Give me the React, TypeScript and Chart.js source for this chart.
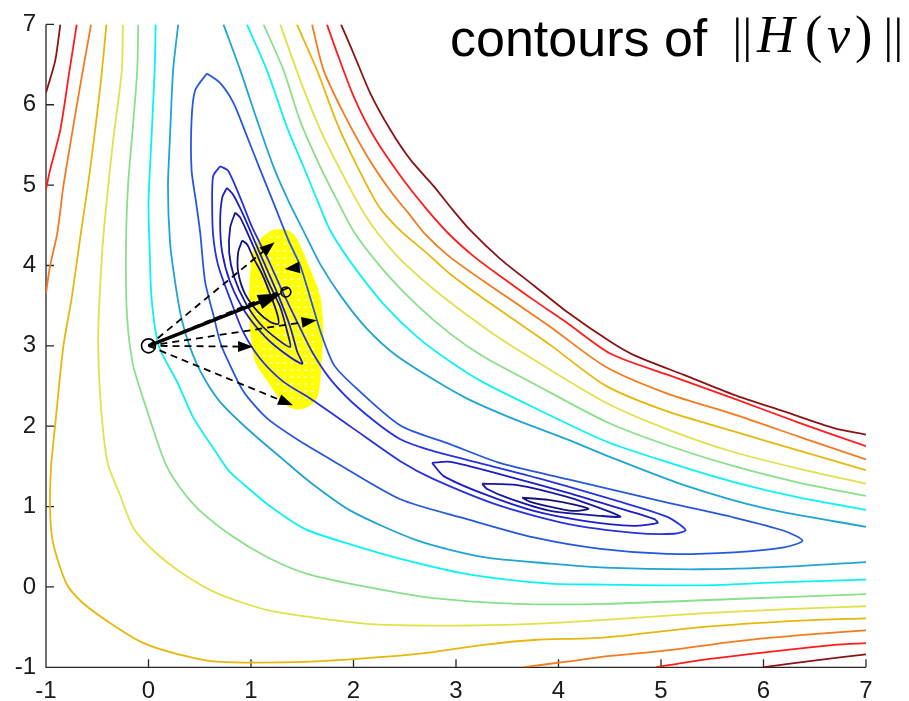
import React, { useEffect, useRef } from "react";
import { Chart, registerables } from "chart.js";

Chart.register(...registerables);

type Pt = [number, number];

// ---- axes ----
const xTickValues = [-1, 0, 1, 2, 3, 4, 5, 6, 7];
const yTickValues = [-1, 0, 1, 2, 3, 4, 5, 6, 7];

// ---- contour lines of ||H(v)|| ----
const darkRedLeft: Pt[] = [[-0.86, 7], [-0.91, 6.55], [-1, 6.15]];
const redLeft: Pt[] = [[-0.7, 7], [-0.77, 6.43], [-0.86, 5.69], [-0.96, 5.19], [-1, 4.95]];
const orangeLeft: Pt[] = [[-0.56, 7], [-0.64, 6.43], [-0.75, 5.61], [-0.83, 4.99], [-0.89, 4.4], [-0.96, 4.0], [-1, 3.65]];
const goldOuter: Pt[] = [[-0.41, 7], [-0.47, 6.23], [-0.57, 5.19], [-0.66, 4.4], [-0.75, 3.59], [-0.83, 3.0], [-0.91, 2.02], [-0.95, 1.5], [-0.96, 0.95], [-0.93, 0.54], [-0.8, 0.04], [-0.64, -0.2], [-0.375, -0.45], [-0.08, -0.68], [0.24, -0.82], [0.67, -0.93], [1.58, -0.93], [2.29, -0.87], [2.78, -0.81], [3.27, -0.72], [3.76, -0.66], [4.43, -0.63], [5.39, -0.5], [6.36, -0.42], [7, -0.39]];
const yellowOuter: Pt[] = [[-0.25, 7], [-0.26, 6.43], [-0.34, 5.61], [-0.41, 4.78], [-0.45, 4.2], [-0.49, 3.17], [-0.47, 2.35], [-0.4, 1.55], [-0.28, 1.15], [-0.15, 0.74], [0.05, 0.45], [0.34, 0.16], [0.67, -0.08], [1.16, -0.29], [1.55, -0.37], [2.13, -0.46], [2.62, -0.48], [3.11, -0.48], [3.76, -0.46], [4.45, -0.41], [5.39, -0.33], [6.36, -0.27], [7, -0.24]];
const greenOuter: Pt[] = [[-0.1, 7], [-0.11, 6.43], [-0.16, 5.61], [-0.2, 4.99], [-0.22, 4.2], [-0.21, 3.38], [-0.15, 2.76], [-0.02, 2.22], [0.16, 1.55], [0.31, 1.23], [0.5, 0.95], [0.83, 0.62], [1.16, 0.37], [1.53, 0.17], [2.13, 0.0], [2.78, -0.14], [3.6, -0.21], [4.45, -0.21], [5.71, -0.15], [7, -0.09]];
const cyanOuter: Pt[] = [[0.07, 7], [0.06, 6.43], [0.03, 5.61], [0.0, 4.78], [0.01, 4.25], [0.03, 3.59], [0.1, 3.0], [0.28, 2.55], [0.44, 2.1], [0.63, 1.73], [0.78, 1.45], [0.89, 1.32], [1.16, 1.03], [1.53, 0.72], [1.97, 0.53], [2.46, 0.35], [3.11, 0.16], [3.92, 0.04], [4.45, 0.03], [5.39, 0.02], [6.2, 0.06], [7, 0.09]];
const tealOuter: Pt[] = [[0.29, 7], [0.24, 6.43], [0.21, 5.61], [0.19, 4.99], [0.21, 4.29], [0.26, 3.79], [0.32, 3.35], [0.4, 3.0], [0.52, 2.65], [0.7, 2.3], [0.98, 1.95], [1.3, 1.6], [1.55, 1.33], [1.97, 0.95], [2.62, 0.58], [3.27, 0.37], [3.92, 0.29], [4.45, 0.24], [5.39, 0.22], [6.2, 0.25], [7, 0.31]];

const tealRight: Pt[] = [[0.731, 7.0], [0.895, 6.431], [1.058, 5.812], [1.22, 5.227], [1.373, 4.782], [1.52, 4.41], [1.676, 4.014], [1.891, 3.594], [2.132, 3.211], [2.408, 2.889], [2.782, 2.58], [3.108, 2.344], [3.597, 2.072], [4.085, 1.837], [4.508, 1.615], [5.224, 1.268], [6.038, 0.971], [7.0, 0.748]];
const cyanRight: Pt[] = [[0.96, 7.0], [1.155, 6.431], [1.351, 5.722], [1.529, 5.177], [1.656, 4.782], [1.773, 4.435], [1.988, 4.014], [2.294, 3.519], [2.62, 3.111], [2.945, 2.802], [3.271, 2.542], [3.759, 2.233], [4.459, 1.813], [5.062, 1.553], [5.712, 1.305], [6.363, 1.107], [7.0, 0.959]];
const greenRight: Pt[] = [[1.122, 7.0], [1.317, 6.431], [1.48, 5.796], [1.676, 5.227], [1.852, 4.782], [2.008, 4.41], [2.294, 3.94], [2.62, 3.507], [2.945, 3.149], [3.271, 2.864], [3.759, 2.529], [4.459, 2.059], [5.062, 1.763], [5.712, 1.503], [6.363, 1.293], [7.0, 1.132]];
const yellowRight: Pt[] = [[1.285, 7.0], [1.48, 6.307], [1.676, 5.689], [1.903, 5.112], [2.086, 4.685], [2.232, 4.41], [2.457, 4.076], [2.782, 3.705], [3.108, 3.384], [3.434, 3.087], [3.759, 2.827], [4.459, 2.295], [5.062, 1.961], [5.712, 1.676], [6.363, 1.466], [7.0, 1.284]];
const goldRight: Pt[] = [[1.448, 7.0], [1.644, 6.431], [1.839, 5.771], [2.034, 5.239], [2.242, 4.744], [2.457, 4.435], [2.718, 4.151], [2.945, 3.891], [3.271, 3.585], [3.597, 3.297], [3.922, 3.009], [4.459, 2.505], [5.062, 2.184], [5.712, 1.936], [6.363, 1.689], [7.0, 1.454]];
const orangeRight: Pt[] = [[1.595, 7.0], [1.708, 6.431], [1.903, 5.895], [2.132, 5.363], [2.359, 4.93], [2.555, 4.621], [2.701, 4.386], [2.945, 4.101], [3.271, 3.804], [3.597, 3.52], [3.922, 3.235], [4.459, 2.74], [5.062, 2.406], [5.712, 2.147], [6.363, 1.862], [7.0, 1.586]];
const redRight: Pt[] = [[1.741, 7.0], [1.842, 6.637], [2.001, 6.105], [2.196, 5.611], [2.457, 5.116], [2.701, 4.72], [2.926, 4.398], [3.173, 4.114], [3.434, 3.866], [3.759, 3.569], [4.085, 3.285], [4.508, 2.902], [5.062, 2.641], [5.712, 2.344], [6.363, 2.035], [7.0, 1.751]];
const darkRedRight: Pt[] = [[1.878, 7.0], [2.001, 6.637], [2.164, 6.142], [2.359, 5.689], [2.555, 5.317], [2.782, 4.988], [2.955, 4.712], [3.141, 4.436], [3.434, 4.08], [3.759, 3.751], [4.085, 3.421], [4.508, 3.05], [4.735, 2.885], [5.224, 2.638], [5.712, 2.39], [6.2, 2.184], [6.688, 1.977], [7.0, 1.895]];

const orangeBottom: Pt[] = [[3.65, -1], [4.08, -0.93], [4.46, -0.865], [5.06, -0.79], [5.71, -0.68], [6.36, -0.6], [7, -0.54]];
const redBottom: Pt[] = [[4.95, -1], [5.39, -0.91], [6.04, -0.81], [6.69, -0.72], [7, -0.7]];
const darkRedBottom: Pt[] = [[5.99, -1], [6.53, -0.91], [7, -0.84]];

// closed loops around the two minima
const royalLoop: Pt[] = [[0.57, 6.39], [0.7, 6.27], [0.83, 6.02], [0.96, 5.61], [1.09, 5.19], [1.22, 4.78], [1.37, 4.3], [1.48, 4.0], [1.58, 3.59], [1.68, 3.17], [1.81, 2.76], [2.03, 2.47], [2.457, 2.01], [2.945, 1.775], [3.434, 1.54], [4.085, 1.342], [5.061, 1.049], [5.712, 0.864], [6.2, 0.699], [6.38, 0.575], [6.2, 0.492], [5.712, 0.431], [5.061, 0.411], [4.41, 0.473], [3.759, 0.616], [3.108, 0.844], [2.457, 1.091], [1.806, 1.565], [1.48, 1.812], [1.155, 2.101], [0.927, 2.431], [0.765, 2.843], [0.699, 3.049], [0.634, 3.38], [0.553, 3.792], [0.504, 4.411], [0.465, 4.78], [0.42, 5.19], [0.42, 5.81], [0.455, 6.18]];
const blueLoop: Pt[] = [[0.699, 5.236], [0.777, 5.178], [0.895, 4.844], [1.012, 4.473], [1.17, 4.065], [1.31, 3.668], [1.46, 3.272], [1.607, 2.901], [1.793, 2.555], [2.066, 2.208], [2.457, 1.837], [2.782, 1.689], [3.271, 1.528], [3.922, 1.311], [4.573, 1.07], [5.061, 0.872], [5.24, 0.708], [5.126, 0.662], [4.735, 0.674], [4.085, 0.786], [3.434, 1.008], [2.782, 1.342], [2.457, 1.565], [1.969, 1.998], [1.578, 2.344], [1.314, 2.555], [1.09, 2.839], [0.924, 3.173], [0.797, 3.581], [0.68, 4.0], [0.631, 4.372], [0.621, 4.78], [0.631, 5.114]];
const upperRing3: Pt[] = [[0.765, 4.967], [0.826, 4.881], [0.924, 4.633], [1.041, 4.287], [1.168, 3.916], [1.285, 3.569], [1.383, 3.235], [1.451, 2.926], [1.5, 2.777], [1.334, 2.901], [1.139, 3.111], [0.943, 3.42], [0.797, 3.792], [0.719, 4.163], [0.699, 4.535], [0.719, 4.844]];
const upperRing2: Pt[] = [[0.846, 4.658], [0.895, 4.596], [0.963, 4.411], [1.07, 4.101], [1.17, 3.792], [1.285, 3.483], [1.354, 3.173], [1.383, 2.988], [1.266, 3.074], [1.09, 3.272], [0.943, 3.544], [0.836, 3.854], [0.787, 4.163], [0.797, 4.472]];
const upperRing1: Pt[] = [[0.914, 4.312], [0.963, 4.262], [1.021, 4.101], [1.109, 3.891], [1.188, 3.643], [1.256, 3.396], [1.266, 3.272], [1.188, 3.297], [1.07, 3.42], [0.943, 3.643], [0.875, 3.916], [0.875, 4.163]];
const lowerRing3: Pt[] = [[2.767, 1.544], [2.945, 1.556], [3.434, 1.4], [4.085, 1.173], [4.573, 0.987], [4.931, 0.847], [4.967, 0.798], [4.735, 0.761], [4.247, 0.823], [3.759, 0.946], [3.271, 1.157], [2.88, 1.379]];
const lowerRing2: Pt[] = [[3.255, 1.284], [3.597, 1.268], [4.085, 1.12], [4.476, 0.946], [4.605, 0.872], [4.41, 0.885], [3.922, 0.946], [3.531, 1.095], [3.304, 1.219]];
const lowerRing1: Pt[] = [[3.646, 1.111], [3.902, 1.083], [4.166, 1.021], [4.293, 0.971], [4.137, 0.946], [3.902, 1.002], [3.727, 1.058]];

// yellow sample cloud
const sampleCloud: Pt[] = [[1.217, 4.435], [1.109, 4.336], [1.031, 4.188], [1.002, 3.915], [0.992, 3.544], [1.002, 3.173], [1.051, 2.802], [1.188, 2.53], [1.314, 2.307], [1.451, 2.221], [1.578, 2.27], [1.646, 2.394], [1.676, 2.74], [1.695, 3.173], [1.676, 3.544], [1.637, 3.73], [1.559, 3.977], [1.5, 4.163], [1.422, 4.361], [1.334, 4.435]];

// search arrows
const startPoint: Pt = [0, 3];
const stepTarget: Pt = [1.3, 3.655];
const stepMarker: Pt = [1.34, 3.67];
const trialTargets: Pt[] = [[1.23, 4.29], [1.64, 3.32], [1.02, 2.99], [1.41, 2.26]];
const nearStepTrial: Pt = [1.36, 3.72];
const backArrowFrom: Pt = [1.5, 3.98];
const backArrowTo: Pt = [1.33, 3.955];

const palette = {
  darkRed: "#8a1414",
  red: "#ff1c1c",
  orange: "#f37a1e",
  gold: "#e7b70d",
  yellow: "#e1e14c",
  green: "#8adf8a",
  cyan: "#0af2f2",
  teal: "#1fa4d3",
  royal: "#2558dc",
  blue: "#2632e0",
  mid: "#1e1ec8",
  navy: "#16169f",
  deep: "#121278",
  cloud: "#ffff00",
  ink: "#000000",
  axis: "#262626",
};

const contours: { data: Pt[]; color: string; closed?: boolean }[] = [
  { data: darkRedLeft, color: palette.darkRed },
  { data: redLeft, color: palette.red },
  { data: orangeLeft, color: palette.orange },
  { data: goldOuter, color: palette.gold },
  { data: yellowOuter, color: palette.yellow },
  { data: greenOuter, color: palette.green },
  { data: cyanOuter, color: palette.cyan },
  { data: tealOuter, color: palette.teal },
  { data: tealRight, color: palette.teal },
  { data: cyanRight, color: palette.cyan },
  { data: greenRight, color: palette.green },
  { data: yellowRight, color: palette.yellow },
  { data: goldRight, color: palette.gold },
  { data: orangeRight, color: palette.orange },
  { data: redRight, color: palette.red },
  { data: darkRedRight, color: palette.darkRed },
  { data: orangeBottom, color: palette.orange },
  { data: redBottom, color: palette.red },
  { data: darkRedBottom, color: palette.darkRed },
  { data: royalLoop, color: palette.royal, closed: true },
  { data: blueLoop, color: palette.blue, closed: true },
  { data: upperRing3, color: palette.mid, closed: true },
  { data: upperRing2, color: palette.navy, closed: true },
  { data: upperRing1, color: palette.deep, closed: true },
  { data: lowerRing3, color: palette.mid, closed: true },
  { data: lowerRing2, color: palette.navy, closed: true },
  { data: lowerRing1, color: palette.deep, closed: true },
];

function drawArrow(
  ctx: CanvasRenderingContext2D,
  x0: number, y0: number, x1: number, y1: number,
  dashed: boolean, lw: number, headLen: number, headW: number, shaft = true
) {
  const dx = x1 - x0, dy = y1 - y0;
  const len = Math.hypot(dx, dy) || 1;
  const ux = dx / len, uy = dy / len;
  const bx = x1 - ux * headLen, by = y1 - uy * headLen;
  if (shaft) {
    ctx.save();
    ctx.lineWidth = lw;
    ctx.setLineDash(dashed ? [7, 5] : []);
    ctx.beginPath();
    ctx.moveTo(x0, y0);
    ctx.lineTo(bx + ux * 2, by + uy * 2);
    ctx.stroke();
    ctx.restore();
  }
  ctx.beginPath();
  ctx.moveTo(x1, y1);
  ctx.lineTo(bx - uy * headW / 2, by + ux * headW / 2);
  ctx.lineTo(bx + uy * headW / 2, by - ux * headW / 2);
  ctx.closePath();
  ctx.fill();
}

function insidePoly(px: number, py: number, poly: [number, number][]) {
  let inside = false;
  for (let i = 0, j = poly.length - 1; i < poly.length; j = i++) {
    const [xi, yi] = poly[i];
    const [xj, yj] = poly[j];
    if ((yi > py) !== (yj > py) && px < ((xj - xi) * (py - yi)) / (yj - yi) + xi) inside = !inside;
  }
  return inside;
}

const CLOUD_INDEX = contours.length;

const axesPlugin = {
  id: "matlabAxes",
  beforeDatasetsDraw(chart: any) {
    const { ctx, chartArea, scales } = chart;
    const xs = scales.x, ys = scales.y;
    ctx.save();
    ctx.strokeStyle = palette.axis;
    ctx.lineWidth = 1.3;
    ctx.beginPath();
    ctx.moveTo(chartArea.left, chartArea.top);
    ctx.lineTo(chartArea.left, chartArea.bottom);
    ctx.lineTo(chartArea.right, chartArea.bottom);
    for (const t of xTickValues) {
      const px = xs.getPixelForValue(t);
      ctx.moveTo(px, chartArea.bottom);
      ctx.lineTo(px, chartArea.bottom - 8);
    }
    for (const t of yTickValues) {
      const py = ys.getPixelForValue(t);
      ctx.moveTo(chartArea.left, py);
      ctx.lineTo(chartArea.left + 8, py);
    }
    ctx.stroke();
    ctx.restore();
  },
  afterDatasetDraw(chart: any, args: any) {
    if (args.index !== CLOUD_INDEX) return;
    // white gaps between the yellow sample markers
    const { ctx, scales } = chart;
    const poly = sampleCloud.map(([x, y]) => [scales.x.getPixelForValue(x), scales.y.getPixelForValue(y)] as [number, number]);
    let minX = Infinity, maxX = -Infinity, minY = Infinity, maxY = -Infinity;
    for (const [x, y] of poly) { minX = Math.min(minX, x); maxX = Math.max(maxX, x); minY = Math.min(minY, y); maxY = Math.max(maxY, y); }
    ctx.save();
    ctx.fillStyle = "rgba(255,255,255,0.85)";
    for (let gy = minY + 6; gy < maxY - 4; gy += 7) {
      for (let gx = minX + 5; gx < maxX - 4; gx += 7) {
        if (insidePoly(gx, gy, poly) && insidePoly(gx - 4, gy, poly) && insidePoly(gx + 6, gy, poly)) {
          ctx.fillRect(gx, gy, 3, 1.2);
        }
      }
    }
    ctx.restore();
  },
};

const overlayPlugin = {
  id: "overlay",
  afterDatasetsDraw(chart: any) {
    const { ctx, scales } = chart;
    const X = (v: number) => scales.x.getPixelForValue(v);
    const Y = (v: number) => scales.y.getPixelForValue(v);
    const sx = X(startPoint[0]), sy = Y(startPoint[1]);
    ctx.save();
    ctx.strokeStyle = palette.ink;
    ctx.fillStyle = palette.ink;
    for (const t of trialTargets) {
      drawArrow(ctx, sx, sy, X(t[0]), Y(t[1]), true, 1.8, 15, 11);
    }
    ctx.save();
    ctx.lineWidth = 1.8;
    ctx.setLineDash([7, 5]);
    ctx.beginPath();
    ctx.moveTo(sx, sy);
    ctx.lineTo(X(nearStepTrial[0]), Y(nearStepTrial[1]));
    ctx.stroke();
    ctx.restore();
    drawArrow(ctx, X(backArrowFrom[0]), Y(backArrowFrom[1]), X(backArrowTo[0]), Y(backArrowTo[1]), false, 1, 15, 12, false);
    drawArrow(ctx, sx, sy, X(stepTarget[0]), Y(stepTarget[1]), false, 3.4, 24, 15);
    ctx.lineWidth = 1.6;
    ctx.beginPath();
    ctx.arc(sx, sy, 7, 0, Math.PI * 2);
    ctx.stroke();
    ctx.beginPath();
    ctx.arc(X(stepMarker[0]), Y(stepMarker[1]), 5, 0, Math.PI * 2);
    ctx.stroke();
    // title
    ctx.textBaseline = "alphabetic";
    ctx.textAlign = "left";
    ctx.font = "52px 'Liberation Sans', Arial, sans-serif";
    ctx.fillText("contours of", 450, 56);
    ctx.font = "48px 'Liberation Serif', serif";
    ctx.fillText("|", 732.5, 52);
    ctx.fillText("|", 742.5, 52);
    ctx.font = "italic 52px 'Liberation Serif', serif";
    ctx.fillText("H", 757, 52);
    ctx.font = "52px 'Liberation Serif', serif";
    ctx.fillText("(", 805, 52);
    ctx.font = "italic 52px 'Liberation Serif', serif";
    ctx.fillText("v", 827, 52);
    ctx.font = "52px 'Liberation Serif', serif";
    ctx.fillText(")", 855, 52);
    ctx.font = "48px 'Liberation Serif', serif";
    ctx.fillText("|", 883.5, 52);
    ctx.fillText("|", 893.5, 52);
    ctx.restore();
  },
};

export default function App() {
  const ref = useRef<HTMLCanvasElement | null>(null);
  useEffect(() => {
    const canvas = ref.current;
    if (!canvas) return;
    const datasets: any[] = contours.map((c) => {
      const pts = c.closed ? [...c.data, c.data[0]] : c.data;
      return {
        data: pts.map(([x, y]) => ({ x, y })),
        showLine: true,
        borderColor: c.color,
        borderWidth: 1.8,
        pointRadius: 0,
        tension: 0.25,
        fill: false,
        order: 1,
      };
    });
    datasets.push({
      data: [...sampleCloud, sampleCloud[0]].map(([x, y]) => ({ x, y })),
      showLine: true,
      borderColor: palette.cloud,
      backgroundColor: palette.cloud,
      borderWidth: 2,
      pointRadius: 0,
      tension: 0.3,
      fill: "shape",
      order: 5,
    });
    const tickFont = { family: "'Liberation Sans', Arial, sans-serif", size: 24 };
    const chart = new Chart(canvas, {
      type: "scatter",
      data: { datasets },
      options: {
        animation: false,
        responsive: false,
        devicePixelRatio: 1,
        events: [],
        layout: { padding: { top: 20.7, right: 43, bottom: 0, left: 0 } },
        plugins: {
          legend: { display: false },
          tooltip: { enabled: false },
        },
        scales: {
          x: {
            type: "linear",
            min: -1,
            max: 7,
            position: "bottom",
            grid: { display: false, drawTicks: false },
            border: { display: false },
            ticks: { stepSize: 1, padding: 10, color: "#1a1a1a", font: tickFont, maxRotation: 0, autoSkip: false },
            afterFit: (s: any) => { s.height = 33.7; },
          },
          y: {
            type: "linear",
            min: -1,
            max: 7,
            position: "left",
            grid: { display: false, drawTicks: false },
            border: { display: false },
            ticks: { stepSize: 1, padding: 10, color: "#1a1a1a", font: tickFont, autoSkip: false },
            afterFit: (s: any) => { s.width = 46; },
          },
        },
      } as any,
      plugins: [axesPlugin, overlayPlugin],
    });
    return () => chart.destroy();
  }, []);
  return (
    <div style={{ position: "absolute", left: 0, top: 0, width: 909, height: 701, background: "#ffffff" }}>
      <canvas ref={ref} width={909} height={701} style={{ display: "block" }} />
    </div>
  );
}
